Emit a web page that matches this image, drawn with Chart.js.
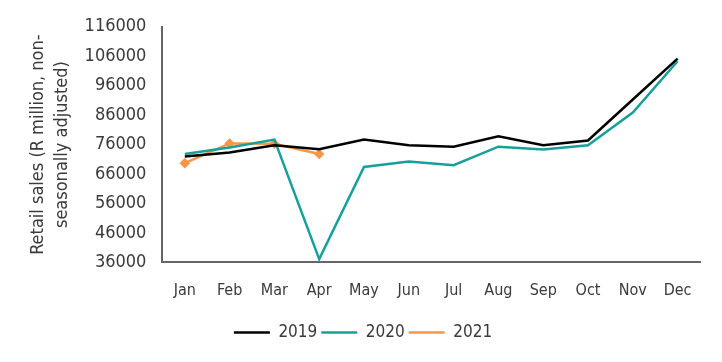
<!DOCTYPE html>
<html>
<head>
<meta charset="utf-8">
<script src="https://cdn.jsdelivr.net/npm/chart.js@4"></script>
<style>
  html, body { margin: 0; padding: 0; background: #fff; }
  #wrap { width: 722px; height: 362px; }
</style>
</head>
<body>
<div id="wrap"><canvas id="chart"></canvas></div>
<script>
// months on the x axis
const months = ['Jan', 'Feb', 'Mar', 'Apr', 'May', 'Jun', 'Jul', 'Aug', 'Sep', 'Oct', 'Nov', 'Dec']

// retail sales, R million
const sales2019 = [72000, 73300, 75800, 74400, 77700, 75800, 75300, 78800, 75800, 77400, 91300, 105200]
const sales2020 = [72800, 75000, 77700, 37100, 68400, 70300, 69000, 75300, 74300, 75800, 86900, 104300]
const sales2021 = [69700, 76400, 76300, 72800]

const yTitle = ['Retail sales (R million, non-', 'seasonally adjusted)']

const font = "'Liberation Sans Narrow', 'DejaVu Sans Condensed', sans-serif"
const textColor = '#3a3a3a'

const data = {
  labels: months,
  datasets: [
    {
      label: '2019',
      data: sales2019,
      borderColor: '#000000',
      backgroundColor: '#000000',
      borderWidth: 2.5,
      pointRadius: 0,
      tension: 0
    },
    {
      label: '2020',
      data: sales2020,
      borderColor: '#17a09a',
      backgroundColor: '#17a09a',
      borderWidth: 2.5,
      pointRadius: 0,
      tension: 0
    },
    {
      label: '2021',
      data: sales2021,
      borderColor: '#f79646',
      backgroundColor: '#f79646',
      borderWidth: 2.5,
      pointStyle: 'rectRot',
      pointRadius: 3.5,
      tension: 0
    }
  ]
}

const config = {
  type: 'line',
  data: data,
  options: {
    responsive: true,
    maintainAspectRatio: false,
    animation: false,
    layout: { padding: { left: 26, right: 22, top: -8, bottom: 11 } },
    plugins: {
      tooltip: { enabled: false },
      legend: {
        position: 'bottom',
        labels: {
          color: textColor,
          font: { family: font, size: 17 },
          usePointStyle: true,
          pointStyle: 'line',
          pointStyleWidth: 36,
          padding: 4
        }
      }
    },
    scales: {
      x: {
        offset: true,
        grid: { display: false, drawTicks: false },
        border: { display: true, color: '#666', width: 2 },
        ticks: { color: textColor, font: { family: font, size: 16, lineHeight: 0.35 }, padding: 26, maxRotation: 0 }
      },
      y: {
        min: 36000,
        max: 116000,
        grid: { display: false, drawTicks: false },
        border: { display: true, color: '#666', width: 2 },
        ticks: {
          stepSize: 10000,
          color: textColor,
          font: { family: font, size: 18 },
          padding: 16,
          callback: (v) => String(v)
        },
        title: {
          display: true,
          text: yTitle,
          color: textColor,
          font: { family: font, size: 18, lineHeight: 1.35 },
          padding: { top: 0, bottom: -6 }
        }
      }
    }
  }
}

new Chart(document.getElementById('chart'), config)
</script>
</body>
</html>
